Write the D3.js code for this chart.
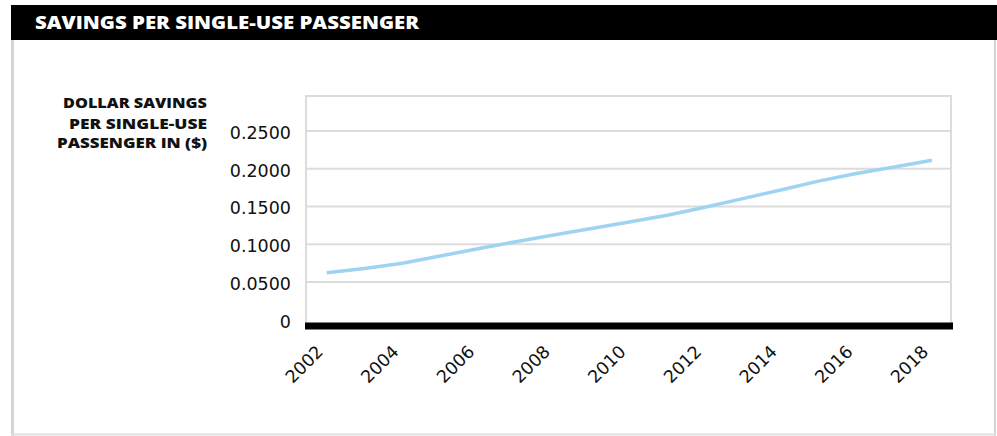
<!DOCTYPE html>
<html><head><meta charset="utf-8">
<script src="https://cdn.jsdelivr.net/npm/d3@7"></script>
<style>
html,body{margin:0;padding:0;background:#fff;}
svg{display:block;}
</style></head>
<body>
<svg id="chart" width="997" height="436"></svg>
<script>
// ---- data ----
const title = "SAVINGS PER SINGLE-USE PASSENGER";
const yAxisTitle = ["DOLLAR SAVINGS", "PER SINGLE-USE", "PASSENGER IN ($)"];
const years = [2002,2003,2004,2005,2006,2007,2008,2009,2010,2011,2012,2013,2014,2015,2016,2017,2018];
const savings = [0.0623,0.0680,0.0750,0.0845,0.0940,0.1035,0.1122,0.1210,0.1296,0.1385,0.1490,0.1605,0.1720,0.1837,0.1937,0.2024,0.2114];
const yTicks = [0, 0.05, 0.10, 0.15, 0.20, 0.25];
const xTickYears = [2002,2004,2006,2008,2010,2012,2014,2016,2018];

(function(){
const svg = d3.select("#chart");
const W = 997, H = 436;

// outer frame
svg.append("rect").attr("x",11).attr("y",5).attr("width",W-11).attr("height",35).attr("fill","#000");
svg.append("line").attr("x1",12.5).attr("x2",12.5).attr("y1",40).attr("y2",H).attr("stroke","#d4d4d4").attr("stroke-width",3);
svg.append("line").attr("x1",995).attr("x2",995).attr("y1",40).attr("y2",H).attr("stroke","#d4d4d4").attr("stroke-width",2);
svg.append("line").attr("x1",11).attr("x2",996).attr("y1",434.5).attr("y2",434.5).attr("stroke","#e0e0e0").attr("stroke-width",2);

svg.append("text").attr("x",35).attr("y",29).text(title)
  .attr("fill","#fff").attr("font-family","'Open Sans', sans-serif").attr("font-weight",800)
  .attr("font-size",17).attr("textLength",384).attr("lengthAdjust","spacingAndGlyphs");

// plot
const pLeft = 306, pRight = 951, pTop = 96, zeroY = 319.8;
const yMax = 0.05 * (zeroY - pTop) / 37.75;
const y = d3.scaleLinear().domain([0, yMax]).range([zeroY, pTop]);
const x = d3.scalePoint().domain(years).range([326.7, 932]);

const g = svg.append("g");
g.selectAll("line.grid").data(yTicks.filter(d=>d>0)).join("line")
  .attr("class","grid")
  .attr("x1",pLeft).attr("x2",pRight).attr("y1",d=>y(d)).attr("y2",d=>y(d))
  .attr("stroke","#dcdcdc").attr("stroke-width",2);
g.append("path").attr("d",`M${pLeft},${zeroY+3}V${pTop}H${pRight}V${zeroY+3}`)
  .attr("fill","none").attr("stroke","#dcdcdc").attr("stroke-width",2);

// y axis
const yAxis = d3.axisLeft(y).tickValues(yTicks).tickSize(0).tickPadding(0)
  .tickFormat(d => d === 0 ? "0" : d3.format(".4f")(d));
const ya = svg.append("g").attr("transform",`translate(291,0)`).call(yAxis);
ya.select(".domain").remove();
ya.selectAll("text").attr("font-family","'DejaVu Sans', sans-serif").attr("font-size",17.5)
  .attr("fill","#111").attr("dy","0.36em").attr("y",1);

// x axis bar
svg.append("rect").attr("x",305).attr("y",zeroY+2.7).attr("width",648).attr("height",7).attr("fill","#000");

const xAxis = d3.axisBottom(x).tickValues(xTickYears).tickSize(0).tickPadding(0);
const xa = svg.append("g").attr("transform",`translate(0,${zeroY})`).call(xAxis);
xa.select(".domain").remove();
xa.selectAll("text")
  .attr("font-family","'DejaVu Sans', sans-serif").attr("font-size",17.5).attr("fill","#111")
  .attr("text-anchor","end").attr("dy",null).attr("y",null)
  .attr("transform","translate(-3,33) rotate(-45)");

// y axis title
const titleWidths = [144, 138, 150];
const yt = svg.append("text").attr("text-anchor","end")
  .attr("font-family","'Open Sans', sans-serif").attr("font-weight",800).attr("font-size",14.5).attr("fill","#111");
yt.selectAll("tspan").data(yAxisTitle).join("tspan")
  .attr("x",207).attr("y",(d,i)=>[108,128.5,148][i])
  .attr("textLength",(d,i)=>titleWidths[i]).attr("lengthAdjust","spacingAndGlyphs").text(d=>d);

// line
svg.append("path").datum(years.map((yr,i)=>[yr,savings[i]]))
  .attr("d", d3.line().x(d=>x(d[0])).y(d=>y(d[1])))
  .attr("fill","none").attr("stroke","#9fd3f2").attr("stroke-width",3.5).attr("stroke-linejoin","round");
})();
</script>
</body></html>
